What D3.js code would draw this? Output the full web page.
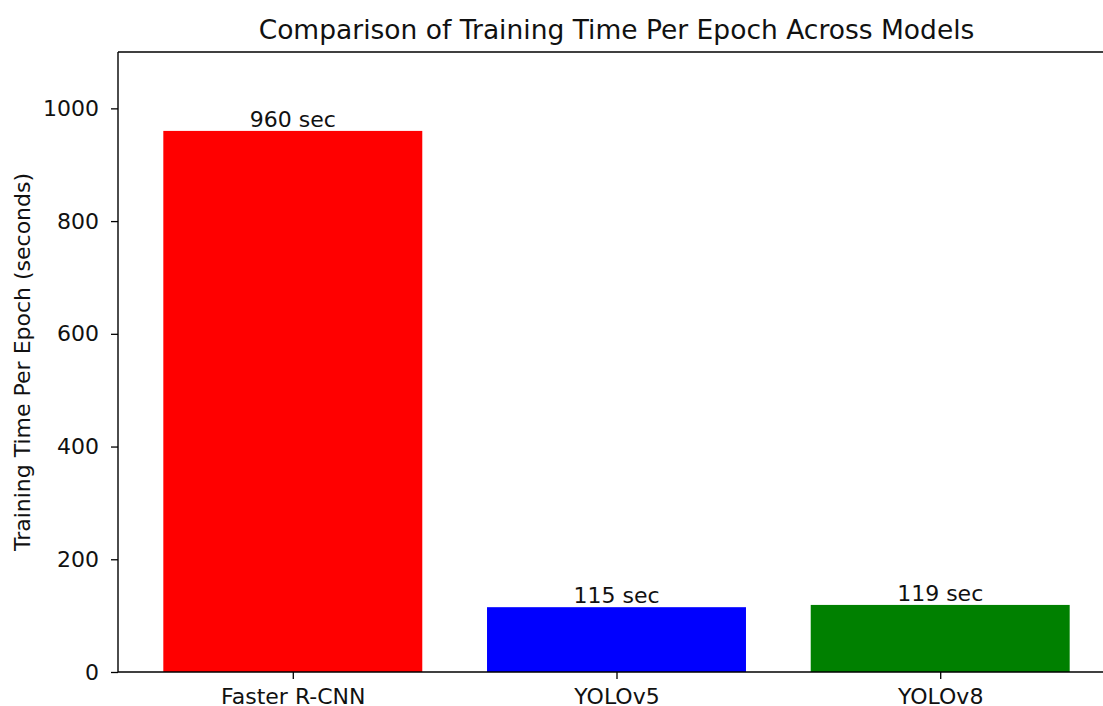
<!DOCTYPE html>
<html>
<head>
<meta charset="utf-8">
<script src="https://cdn.jsdelivr.net/npm/d3@7"></script>
<style>
  html, body { margin: 0; padding: 0; background: #fff; }
  svg { display: block; font-family: "DejaVu Sans", sans-serif; }
</style>
</head>
<body>
<svg id="chart" width="1103" height="706"></svg>
<script>
// Training time per epoch for each detector
const models = ["Faster R-CNN", "YOLOv5", "YOLOv8"];
const seconds = [960, 115, 119];
const barColors = ["#ff0000", "#0000ff", "#008000"];
const yTicks = [0, 200, 400, 600, 800, 1000];

const svg = d3.select("#chart");
const plot = { left: 118, right: 1115, top: 52, bottom: 672 };
const labelSize = 22;
const ink = "#111";

// category positions 0..n-1, 0.8-wide bars, 5% margin around the bar extent
const n = models.length;
const barW = 0.8;
const span = (n - 1) + barW;
const x = d3.scaleLinear()
  .domain([-barW / 2 - 0.05 * span, (n - 1) + barW / 2 + 0.05 * span])
  .range([plot.left, plot.right]);
const y = d3.scaleLinear().domain([0, 1100]).range([plot.bottom, plot.top]);

// bars
svg.append("g").selectAll("rect")
  .data(seconds)
  .join("rect")
  .attr("x", (d, i) => x(i - barW / 2))
  .attr("width", (d, i) => x(i + barW / 2) - x(i - barW / 2))
  .attr("y", d => y(d))
  .attr("height", d => y(0) - y(d))
  .attr("fill", (d, i) => barColors[i]);

// value labels
svg.append("g").selectAll("text")
  .data(seconds)
  .join("text")
  .attr("x", (d, i) => x(i))
  .attr("y", d => y(d) - 4)
  .attr("text-anchor", "middle")
  .attr("font-size", labelSize)
  .attr("fill", ink)
  .text(d => `${d} sec`);

// y axis
const yAxis = d3.axisLeft(y).tickValues(yTicks).tickSize(7).tickPadding(12).tickFormat(d3.format("d"));
const gy = svg.append("g").attr("transform", `translate(${plot.left},0)`).call(yAxis);
gy.select(".domain").remove();
gy.selectAll("line").attr("stroke", "#000").attr("stroke-width", 1.3);
gy.selectAll("text").attr("font-size", labelSize).attr("fill", ink).attr("font-family", "DejaVu Sans, sans-serif");

// x axis
const xAxis = d3.axisBottom(x).tickValues(d3.range(n)).tickSize(7).tickPadding(9).tickFormat(i => models[i]);
const gx = svg.append("g").attr("transform", `translate(0,${plot.bottom})`).call(xAxis);
gx.select(".domain").remove();
gx.selectAll("line").attr("stroke", "#000").attr("stroke-width", 1.3);
gx.selectAll("text").attr("font-size", labelSize).attr("fill", ink).attr("font-family", "DejaVu Sans, sans-serif");

// frame
const frame = svg.append("g").attr("stroke", "#000").attr("stroke-width", 1.4).attr("fill", "none");
frame.append("line").attr("x1", plot.left).attr("x2", plot.left).attr("y1", plot.top).attr("y2", plot.bottom);
frame.append("line").attr("x1", plot.left).attr("x2", plot.right).attr("y1", plot.bottom).attr("y2", plot.bottom);
frame.append("line").attr("x1", plot.left).attr("x2", plot.right).attr("y1", plot.top).attr("y2", plot.top);
frame.append("line").attr("x1", plot.right).attr("x2", plot.right).attr("y1", plot.top).attr("y2", plot.bottom);

// y label
svg.append("text")
  .attr("transform", `translate(30,${(plot.top + plot.bottom) / 2}) rotate(-90)`)
  .attr("text-anchor", "middle")
  .attr("font-size", labelSize)
  .attr("fill", ink)
  .text("Training Time Per Epoch (seconds)");

// title
svg.append("text")
  .attr("x", (plot.left + plot.right) / 2)
  .attr("y", 39)
  .attr("text-anchor", "middle")
  .attr("font-size", 26.5)
  .attr("fill", ink)
  .text("Comparison of Training Time Per Epoch Across Models");
</script>
</body>
</html>
